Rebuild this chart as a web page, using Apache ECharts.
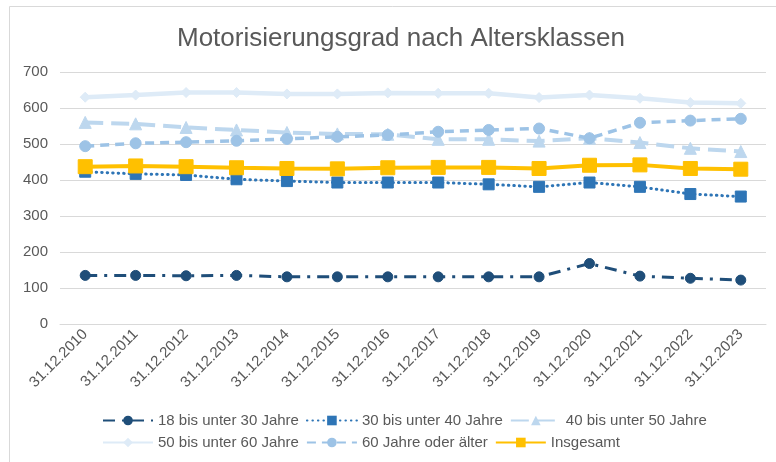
<!DOCTYPE html>
<html>
<head>
<meta charset="utf-8">
<script src="https://cdn.jsdelivr.net/npm/echarts@6/dist/echarts.min.js"></script>
<style>
  html, body { margin: 0; padding: 0; background: #fff; }
  #chart { width: 776px; height: 462px; }
</style>
</head>
<body>
<div id="chart"></div>
<script>
// data
const categories = ['31.12.2010', '31.12.2011', '31.12.2012', '31.12.2013', '31.12.2014', '31.12.2015', '31.12.2016',
    '31.12.2017', '31.12.2018', '31.12.2019', '31.12.2020', '31.12.2021', '31.12.2022', '31.12.2023'];
const age18to30 = [135, 135, 134, 135, 131, 131, 131, 131, 131, 131, 168, 133, 127, 122];
const age30to40 = [423, 417, 414, 402, 397, 393, 393, 393, 388, 381, 393, 381, 361, 354];
const age40to50 = [560, 556, 546, 539, 532, 528, 527, 513, 513, 508, 516, 504, 488, 479];
const age50to60 = [630, 636, 643, 643, 639, 639, 642, 641, 641, 629, 636, 627, 615, 613];
const age60plus = [494, 502, 505, 509, 514, 520, 525, 534, 539, 543, 516, 559, 565, 570];
const total = [437, 439, 437, 434, 432, 431, 434, 435, 435, 432, 441, 442, 432, 430];
const yTicks = { min: 0, max: 700, interval: 100 };

const textColor = '#595959';
const gridColor = '#d9d9d9';

function lineSeries(name, data, color, width, dash, symbol, size) {
    return {
        name: name,
        type: 'line',
        data: data,
        symbol: symbol,
        symbolSize: size,
        showAllSymbol: true,
        itemStyle: { color: color, borderColor: color },
        lineStyle: { color: color, width: width, type: dash, cap: dash === 'solid' ? 'butt' : (symbol === 'rect' ? 'round' : 'butt') },
        emphasis: { disabled: true },
        animation: false,
    };
}

const chart = echarts.init(document.getElementById('chart'));
chart.setOption({
    backgroundColor: '#fff',
    textStyle: { fontFamily: 'Liberation Sans, Arial, sans-serif' },
    title: {
        text: 'Motorisierungsgrad nach Altersklassen',
        left: 172,
        top: 21,
        textStyle: { fontSize: 26, fontWeight: 'normal', color: textColor },
    },
    graphic: [{
        type: 'polyline',
        shape: { points: [[9.5, 462], [9.5, 6.5], [776, 6.5]] },
        style: { stroke: gridColor, fill: null, lineWidth: 1 },
        silent: true,
    }],
    legend: {
        left: 97,
        top: 408,
        width: 620,
        itemWidth: 50,
        itemHeight: 12,
        itemGap: 7,
        textStyle: { fontSize: 15, color: textColor, width: 142 },
        selectedMode: false,
    },
    grid: { left: 60, right: 10, top: 72, bottom: 138 },
    xAxis: {
        type: 'category',
        data: categories,
        boundaryGap: true,
        axisLine: { lineStyle: { color: gridColor } },
        axisTick: { show: false },
        axisLabel: { rotate: 45, fontSize: 15, color: textColor, margin: 8, interval: 0 },
    },
    yAxis: {
        type: 'value',
        min: yTicks.min,
        max: yTicks.max,
        interval: yTicks.interval,
        axisLine: { show: false },
        axisTick: { show: false },
        axisLabel: { fontSize: 15, color: textColor, margin: 12 },
        splitLine: { lineStyle: { color: gridColor, width: 1 } },
    },
    series: [
        lineSeries('18 bis unter 30 Jahre', age18to30, '#1f4e79', 3, [12, 7, 3, 7], 'circle', 10),
        lineSeries('30 bis unter 40 Jahre', age30to40, '#2e75b6', 3, [0.5, 5], 'rect', 11),
        lineSeries('40 bis unter 50 Jahre', age40to50, '#bdd7ee', 4, [18, 8], 'triangle', 12),
        lineSeries('50 bis unter 60 Jahre', age50to60, '#deebf7', 4.5, 'solid', 'diamond', 10),
        lineSeries('60 Jahre oder älter', age60plus, '#9dc3e6', 3.5, [9, 6], 'circle', 11),
        lineSeries('Insgesamt', total, '#ffc000', 4, 'solid', 'rect', 14),
    ],
});
</script>
</body>
</html>
